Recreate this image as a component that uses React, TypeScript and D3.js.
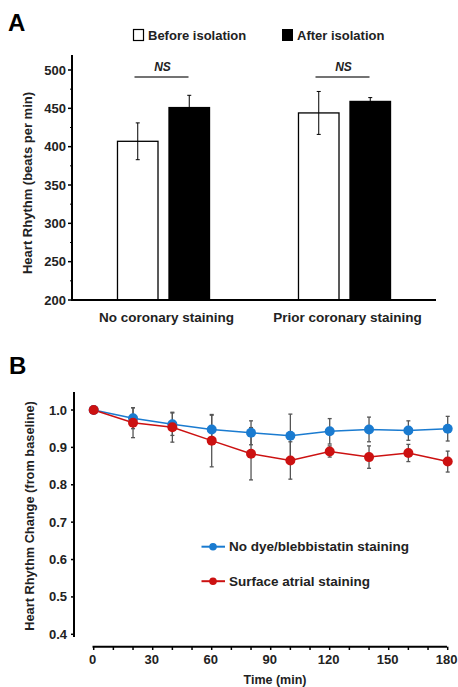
import React from "react";
import * as d3 from "d3";

// Panel A data
const groupsA = ["No coronary staining", "Prior coronary staining"];
const seriesA = ["Before isolation", "After isolation"];
const meansA = [
  [407, 451],
  [444, 459],
];
const errsA = [
  [24, 16],
  [28, 5],
];
const ticksA = [200, 250, 300, 350, 400, 450, 500];

// Panel B data
const timesB = [0, 20, 40, 60, 80, 100, 120, 140, 160, 180];
const blueB = [1.0, 0.978, 0.962, 0.948, 0.939, 0.931, 0.943, 0.948, 0.945, 0.95];
const blueErrB = [0, 0.028, 0.03, 0.038, 0.032, 0.058, 0.034, 0.033, 0.026, 0.033];
const redB = [1.0, 0.966, 0.954, 0.918, 0.883, 0.865, 0.889, 0.874, 0.885, 0.862];
const redErrB = [0, 0.04, 0.04, 0.07, 0.07, 0.05, 0.015, 0.03, 0.023, 0.028];
const seriesB = ["No dye/blebbistatin staining", "Surface atrial staining"];
const ticksBy = [0.4, 0.5, 0.6, 0.7, 0.8, 0.9, 1.0];
const ticksBx = [0, 30, 60, 90, 120, 150, 180];

const FONT = "'Liberation Sans', Arial, sans-serif";
const BLUE = "#1a7bd0";
const RED = "#cc1111";

export default function App() {
  // Panel A scales
  const yA = d3.scaleLinear().domain([200, 500]).range([300, 70]);
  const xA0 = d3.scaleBand().domain(groupsA).range([73, 435]).paddingInner(0.486).paddingOuter(0.243);
  const xA1 = d3.scaleBand().domain(seriesA).range([0, xA0.bandwidth()]).paddingInner(0.194).paddingOuter(0);
  const minorA = d3.range(225, 525, 50);

  // Panel B scales
  const yB = d3.scaleLinear().domain([0.4, 1.0]).range([634.3, 410]);
  const xB = d3.scaleLinear().domain([0, 180]).range([93.7, 447.7]);
  const line = d3
    .line<number>()
    .x((_, i) => xB(timesB[i]))
    .y((d) => yB(d));
  const minorBx = d3.range(0, 190, 10);

  const seriesData = [
    { name: seriesB[0], vals: blueB, errs: blueErrB, color: BLUE },
    { name: seriesB[1], vals: redB, errs: redErrB, color: RED },
  ];

  return (
    <svg width={458} height={687} style={{ position: "absolute", left: 0, top: 0, background: "#fff" }} fontFamily={FONT}>
      {/* Panel A */}
      <text x={8} y={31} fontSize={24} fontWeight="bold">A</text>
      {/* legend A */}
      <rect x={133.5} y={29.5} width={10} height={11} fill="#fff" stroke="#000" strokeWidth={1.2} />
      <text x={148} y={40} fontSize={13} fontWeight="bold" fill="#222">{seriesA[0]}</text>
      <rect x={282} y={29} width={11} height={12} fill="#000" />
      <text x={297} y={40} fontSize={13} fontWeight="bold" fill="#222">{seriesA[1]}</text>

      {/* y axis A */}
      <line x1={72} x2={72} y1={55} y2={301} stroke="#000" strokeWidth={2} />
      {ticksA.map((t) => (
        <g key={t}>
          <line x1={68} x2={72} y1={yA(t)} y2={yA(t)} stroke="#000" strokeWidth={1.5} />
          <text x={66} y={yA(t)} dy="0.35em" textAnchor="end" fontSize={13} fontWeight="bold" fill="#222">
            {t}
          </text>
        </g>
      ))}
      {minorA.map((t) => (
        <line key={t} x1={70} x2={72} y1={yA(t)} y2={yA(t)} stroke="#000" strokeWidth={1} />
      ))}
      <text
        transform={`translate(32,183) rotate(-90)`}
        textAnchor="middle"
        fontSize={13}
        fontWeight="bold"
        fill="#222"
      >
        Heart Rhythm (beats per min)
      </text>

      {/* bars A */}
      {groupsA.map((g, gi) => (
        <g key={g}>
          {seriesA.map((s, si) => {
            const x = (xA0(g) as number) + (xA1(s) as number);
            const w = xA1.bandwidth();
            const m = meansA[gi][si];
            const e = errsA[gi][si];
            const cx = x + w / 2;
            return (
              <g key={s}>
                <line x1={cx} x2={cx} y1={yA(m + e)} y2={yA(m - e)} stroke="#000" strokeWidth={1} />
                <line x1={cx - 2} x2={cx + 2} y1={yA(m + e)} y2={yA(m + e)} stroke="#000" strokeWidth={1} />
                <line x1={cx - 2} x2={cx + 2} y1={yA(m - e)} y2={yA(m - e)} stroke="#000" strokeWidth={1} />
                <rect
                  x={x + 0.5}
                  y={yA(m)}
                  width={w - 1}
                  height={yA(200) - yA(m)}
                  fill={si === 0 ? "none" : "#000"}
                  stroke="#000"
                  strokeWidth={1.3}
                />
              </g>
            );
          })}
          {(() => {
            const cx = (xA0(g) as number) + xA0.bandwidth() / 2;
            return (
              <g>
                <line x1={cx - 29} x2={cx + 25} y1={77} y2={77} stroke="#444" strokeWidth={1.3} />
                <text x={cx - 1} y={71} textAnchor="middle" fontSize={12} fontWeight="bold" fontStyle="italic" fill="#222">
                  NS
                </text>
                <text x={cx + 3} y={322} textAnchor="middle" fontSize={13.5} fontWeight="bold" fill="#222">
                  {g}
                </text>
              </g>
            );
          })()}
        </g>
      ))}
      <line x1={72} x2={436} y1={300} y2={300} stroke="#000" strokeWidth={2} />

      {/* Panel B */}
      <text x={9} y={374} fontSize={24} fontWeight="bold">B</text>
      <line x1={74} x2={74} y1={392} y2={637} stroke="#000" strokeWidth={2} />
      {ticksBy.map((t) => (
        <g key={t}>
          <line x1={71} x2={74} y1={yB(t)} y2={yB(t)} stroke="#000" strokeWidth={1.5} />
          <text x={67} y={yB(t)} dy="0.35em" textAnchor="end" fontSize={13} fontWeight="bold" fill="#222">
            {t.toFixed(1)}
          </text>
        </g>
      ))}
      <text
        transform={`translate(34,516) rotate(-90)`}
        textAnchor="middle"
        fontSize={12.8}
        fontWeight="bold"
        fill="#222"
      >
        Heart Rhythm Change (from baseline)
      </text>
      <line x1={92.5} x2={447} y1={646.7} y2={646.7} stroke="#000" strokeWidth={2} />
      {minorBx.map((t) => (
        <line key={t} x1={xB(t)} x2={xB(t)} y1={646.7} y2={650} stroke="#000" strokeWidth={1.5} />
      ))}
      {ticksBx.map((t) => (
        <text key={t} x={xB(t) - 1} y={664} textAnchor="middle" fontSize={13} fontWeight="bold" fill="#222">
          {t}
        </text>
      ))}
      <text x={275} y={684} textAnchor="middle" fontSize={12.5} fontWeight="bold" fill="#222">
        Time (min)
      </text>

      {/* lines B */}
      {seriesData.map((s) => (
        <path key={s.name} d={line(s.vals) as string} fill="none" stroke={s.color} strokeWidth={1.5} />
      ))}
      {seriesData.map((s) => (
        <g key={s.name + "err"}>
          {s.vals.map((v, i) =>
            s.errs[i] > 0 ? (
              <g key={i}>
                <line x1={xB(timesB[i])} x2={xB(timesB[i])} y1={yB(v + s.errs[i])} y2={yB(v - s.errs[i])} stroke="#555" strokeWidth={1.3} />
                <line x1={xB(timesB[i]) - 2} x2={xB(timesB[i]) + 2} y1={yB(v + s.errs[i])} y2={yB(v + s.errs[i])} stroke="#555" strokeWidth={1.3} />
                <line x1={xB(timesB[i]) - 2} x2={xB(timesB[i]) + 2} y1={yB(v - s.errs[i])} y2={yB(v - s.errs[i])} stroke="#555" strokeWidth={1.3} />
              </g>
            ) : null
          )}
        </g>
      ))}
      {seriesData.map((s) => (
        <g key={s.name + "pts"}>
          {s.vals.map((v, i) => (
            <circle key={i} cx={xB(timesB[i])} cy={yB(v)} r={5} fill={s.color} />
          ))}
        </g>
      ))}

      {/* legend B */}
      {seriesData.map((s, i) => {
        const y = 546.7 + i * 34.5;
        return (
          <g key={s.name + "leg"}>
            <line x1={201.5} x2={225} y1={y} y2={y} stroke={s.color} strokeWidth={2} />
            <circle cx={213} cy={y} r={3.8} fill={s.color} />
            <text x={229} y={y} dy="0.35em" fontSize={13.5} fontWeight="bold" fill="#222">
              {s.name}
            </text>
          </g>
        );
      })}
    </svg>
  );
}
